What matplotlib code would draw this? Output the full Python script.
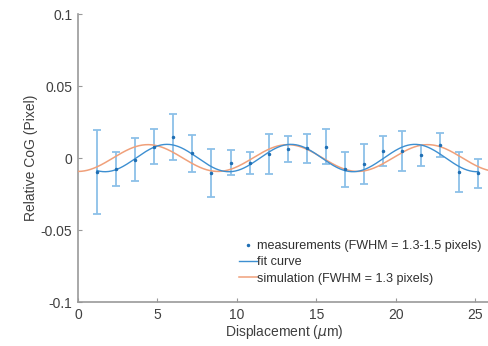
import numpy as np
import matplotlib
matplotlib.use("Agg")
import matplotlib.pyplot as plt

plt.rcParams["font.family"] = ["Liberation Sans", "DejaVu Sans"]

# measurements
displacement = [1.2, 2.4, 3.6, 4.8, 6.0, 7.2, 8.4, 9.6, 10.8, 12.0, 13.2,
                14.4, 15.6, 16.8, 18.0, 19.2, 20.4, 21.6, 22.8, 24.0, 25.2]
cog = [-0.0097, -0.0076, -0.0012, 0.0079, 0.0146, 0.0032, -0.0104, -0.0032,
       -0.0035, 0.0028, 0.0060, 0.0069, 0.0079, -0.0079, -0.0044, 0.0051,
       0.0049, 0.0019, 0.0090, -0.0097, -0.0106]
cog_err = [0.029, 0.012, 0.015, 0.012, 0.016, 0.0127, 0.0167, 0.0087,
           0.0077, 0.014, 0.009, 0.010, 0.012, 0.012, 0.0139, 0.0103,
           0.0142, 0.0074, 0.0086, 0.0137, 0.010]

# sinusoidal fit / simulation parameters: amplitude, period (um), peak position (um)
fit_amp, fit_period, fit_peak = 0.0095, 7.8, 5.6
sim_amp, sim_period, sim_peak = 0.0093, 8.8, 4.4

blue = "#3d8fd1"
orange = "#f0a07a"

fig = plt.figure(figsize=(4.89, 3.46), dpi=100)
ax = fig.add_axes([0.1595, 0.127, 0.845, 0.8325])

ax.errorbar(displacement, cog, yerr=cog_err, fmt="none", ecolor="#8cc0e8",
            elinewidth=1.3, capsize=3.2, capthick=1.3, zorder=2)

x_sim = np.linspace(0, 26, 400)
ax.plot(x_sim, sim_amp * np.cos(2 * np.pi * (x_sim - sim_peak) / sim_period),
        color=orange, lw=1.1, zorder=3, label="simulation (FWHM = 1.3 pixels)")
x_fit = np.linspace(displacement[0], displacement[-1], 400)
ax.plot(x_fit, fit_amp * np.cos(2 * np.pi * (x_fit - fit_peak) / fit_period),
        color=blue, lw=1.0, zorder=4, label="fit curve")
ax.plot(displacement, cog, ".", color="#1f6fb4", ms=3, zorder=5,
        label="measurements (FWHM = 1.3-1.5 pixels)")

ax.set_xlim(0, 26)
ax.set_ylim(-0.1, 0.1)
ax.set_xticks([0, 5, 10, 15, 20, 25])
ax.set_yticks([-0.1, -0.05, 0, 0.05, 0.1])
ax.set_yticklabels(["-0.1", "-0.05", "0", "0.05", "0.1"])
ax.set_xlabel("Displacement ($\\mu$m)", fontsize=10, color="#404040", labelpad=1)
ax.set_ylabel("Relative CoG (Pixel)", fontsize=10, color="#404040", labelpad=2)

for side in ["top", "right"]:
    ax.spines[side].set_visible(False)
for side in ["left", "bottom"]:
    ax.spines[side].set_color("#999999")
    ax.spines[side].set_linewidth(1.2)
ax.tick_params(direction="in", length=3, color="#999999", labelcolor="#404040",
               labelsize=10, pad=4)

handles, labels = ax.get_legend_handles_labels()
order = [2, 1, 0]
ax.legend([handles[i] for i in order], [labels[i] for i in order],
          loc="lower right", bbox_to_anchor=(1.005, 0.02), frameon=False,
          fontsize=9.1, handlelength=1.4, handletextpad=0.05,
          labelspacing=0.35, labelcolor="#303030")

fig.savefig("out.png", dpi=100)
